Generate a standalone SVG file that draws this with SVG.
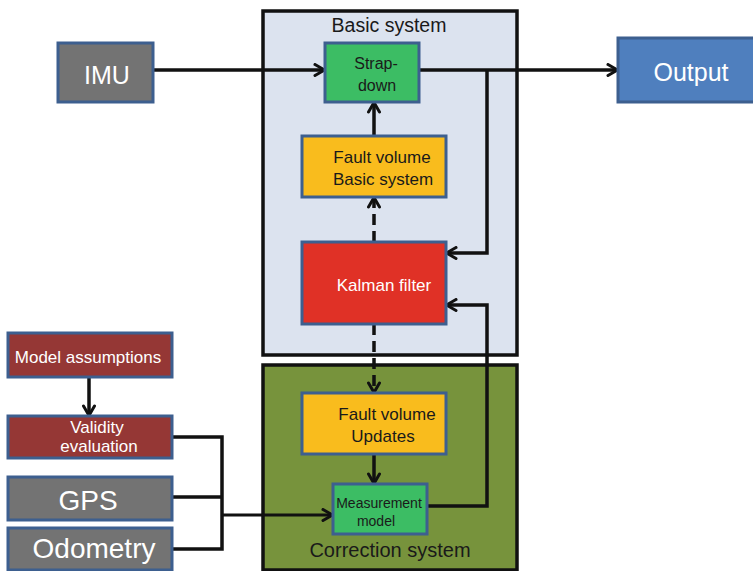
<svg xmlns="http://www.w3.org/2000/svg" width="753" height="571" viewBox="0 0 753 571">
<defs>
<marker id="arr" viewBox="0 0 14 14" refX="12.5" refY="7" markerWidth="14" markerHeight="14" markerUnits="userSpaceOnUse" orient="auto">
<path d="M2.5,1.5 L12,7 L2.5,12.5" fill="none" stroke="#111" stroke-width="3" stroke-linecap="round" stroke-linejoin="round"/>
</marker>
</defs>
<style>
.box{stroke:#3d5f8f;stroke-width:3}
.cont{stroke:#111;stroke-width:3.5}
.ln{fill:none;stroke:#111;stroke-width:3.5}
.dash{stroke-dasharray:11 6}
text{font-family:"Liberation Sans",Arial,sans-serif;text-anchor:middle}
.dk{fill:#1a1a1a}
.wt{fill:#fff}
</style>
<rect width="753" height="571" fill="#fff"/>
<g id="basic-system">
<rect class="cont" x="263" y="11" width="254" height="344" fill="#dce3ef"/>
<text class="dk" x="389" y="32" font-size="19.5">Basic system</text>
</g>
<g id="correction-system">
<rect class="cont" x="263" y="365" width="254" height="205" fill="#77933c"/>
<text class="dk" x="390" y="557" font-size="20">Correction system</text>
</g>
<g id="connectors">
<path class="ln" d="M153,70 H325" marker-end="url(#arr)"/>
<path class="ln" d="M419,70 H618" marker-end="url(#arr)"/>
<path class="ln" d="M487,70 V253 H446" marker-end="url(#arr)"/>
<path class="ln" d="M374,136 V102" marker-end="url(#arr)"/>
<path class="ln dash" d="M374,242 V197" marker-end="url(#arr)"/>
<path class="ln dash" d="M374,324 V393" marker-end="url(#arr)"/>
<path class="ln" d="M374,454 V484" marker-end="url(#arr)"/>
<path class="ln" d="M427,506 H487 V305 H446" marker-end="url(#arr)"/>
<path class="ln" d="M89,377 V416" marker-end="url(#arr)"/>
<path class="ln" d="M172,437 H222 V549 H172 M172,497 H222"/>
<path class="ln" style="stroke-width:3" d="M222,515 H333" marker-end="url(#arr)"/>
</g>
<g id="imu">
<rect class="box" x="58" y="43" width="95" height="59" fill="#737373"/>
<text class="wt" x="107" y="84" font-size="25">IMU</text>
</g>
<g id="output">
<rect class="box" x="618" y="38" width="140" height="64" fill="#4f7fbe"/>
<text class="wt" x="691" y="81" font-size="25">Output</text>
</g>
<g id="strapdown">
<rect class="box" x="325" y="43" width="94" height="59" fill="#3cbd64"/>
<text class="dk" x="376" y="69" font-size="16">Strap-</text>
<text class="dk" x="377" y="91" font-size="16">down</text>
</g>
<g id="fault-volume-basic">
<rect class="box" x="302" y="136" width="144" height="61" fill="#f9bc1d"/>
<text class="dk" x="382" y="163" font-size="17">Fault volume</text>
<text class="dk" x="383" y="185" font-size="17">Basic system</text>
</g>
<g id="kalman">
<rect class="box" x="302" y="242" width="144" height="82" fill="#e03126"/>
<text class="wt" x="384" y="291" font-size="17">Kalman filter</text>
</g>
<g id="fault-volume-updates">
<rect class="box" x="302" y="393" width="144" height="61" fill="#f9bc1d"/>
<text class="dk" x="387" y="420" font-size="17">Fault volume</text>
<text class="dk" x="383" y="442" font-size="17">Updates</text>
</g>
<g id="measurement-model">
<rect class="box" x="333" y="484" width="94" height="50" fill="#3cbd64"/>
<text class="dk" x="379" y="508" font-size="14">Measurement</text>
<text class="dk" x="376" y="526" font-size="14">model</text>
</g>
<g id="model-assumptions">
<rect class="box" x="8" y="333" width="164" height="44" fill="#953735"/>
<text class="wt" x="88" y="363" font-size="17">Model assumptions</text>
</g>
<g id="validity">
<rect class="box" x="8" y="416" width="164" height="42" fill="#953735"/>
<text class="wt" x="97" y="433" font-size="17">Validity</text>
<text class="wt" x="99" y="452" font-size="17">evaluation</text>
</g>
<g id="gps">
<rect class="box" x="8" y="477" width="164" height="43" fill="#737373"/>
<text class="wt" x="88" y="510" font-size="28">GPS</text>
</g>
<g id="odometry">
<rect class="box" x="8" y="528" width="164" height="42" fill="#737373"/>
<text class="wt" x="94" y="558" font-size="28">Odometry</text>
</g>
</svg>
